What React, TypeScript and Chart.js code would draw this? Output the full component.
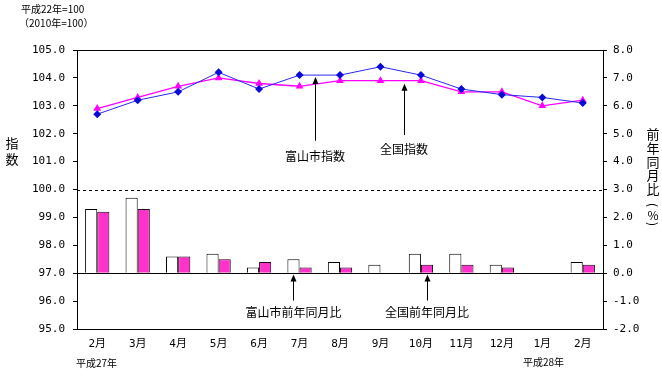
import { useEffect, useRef } from 'react';
import { Chart, registerables } from 'chart.js';

Chart.register(...registerables);

const months = ['2月', '3月', '4月', '5月', '6月', '7月', '8月', '9月', '10月', '11月', '12月', '1月', '2月'];
const toyamaIndex = [102.7, 103.2, 103.5, 104.2, 103.6, 104.1, 104.1, 104.4, 104.1, 103.6, 103.4, 103.3, 103.1];
const nationalIndex = [102.9, 103.3, 103.7, 104.0, 103.8, 103.7, 103.9, 103.9, 103.9, 103.5, 103.5, 103.0, 103.2];
const toyamaYoY = [2.3, 2.7, 0.6, 0.7, 0.2, 0.5, 0.4, 0.3, 0.7, 0.7, 0.3, 0.0, 0.4];
const nationalYoY = [2.2, 2.3, 0.6, 0.5, 0.4, 0.2, 0.2, 0.0, 0.3, 0.3, 0.2, 0.0, 0.3];

const leftAxisMin = 95;
const leftAxisMax = 105;
const rightAxisMin = -2;
const rightAxisMax = 8;
const baseLineIndex = 100;

const MONO = '"DejaVu Sans Mono", "Noto Sans CJK JP", monospace';
const JP = '"Noto Sans CJK JP", sans-serif';

function arrowUp(ctx: CanvasRenderingContext2D, x: number, tipY: number, tailY: number) {
  const xx = Math.round(x) + 0.5;
  ctx.beginPath();
  ctx.moveTo(xx, tipY + 4);
  ctx.lineTo(xx, tailY);
  ctx.stroke();
  ctx.beginPath();
  ctx.moveTo(xx, tipY);
  ctx.lineTo(xx - 3, tipY + 7);
  ctx.lineTo(xx + 3, tipY + 7);
  ctx.closePath();
  ctx.fill();
}

function rotatedChar(ctx: CanvasRenderingContext2D, ch: string, x: number, y: number) {
  ctx.save();
  ctx.translate(x, y);
  ctx.rotate(Math.PI / 2);
  ctx.fillText(ch, 0, 0);
  ctx.restore();
}

const overlay = {
  id: 'overlay',
  afterDatasetsDraw(chart: any) {
    const { ctx, chartArea: a, scales } = chart;
    const yL = scales.y;
    const yR = scales.y1;
    ctx.save();
    ctx.strokeStyle = '#000';
    ctx.fillStyle = '#000';
    ctx.lineWidth = 1;

    // dashed line at 100
    const yd = Math.round(yL.getPixelForValue(baseLineIndex)) + 0.5;
    ctx.setLineDash([3, 3]);
    ctx.beginPath();
    ctx.moveTo(a.left, yd);
    ctx.lineTo(a.right, yd);
    ctx.stroke();
    ctx.setLineDash([]);

    // zero line of bars
    const y0 = Math.round(yR.getPixelForValue(0)) + 0.5;
    ctx.beginPath();
    ctx.moveTo(a.left, y0);
    ctx.lineTo(a.right, y0);
    ctx.stroke();

    // frame
    ctx.strokeRect(Math.round(a.left) + 0.5, Math.round(a.top) + 0.5, Math.round(a.right - a.left), Math.round(a.bottom - a.top));

    // annotations
    const m0 = chart.getDatasetMeta(0).data;
    const m1 = chart.getDatasetMeta(1).data;
    const m2 = chart.getDatasetMeta(2).data;
    const m3 = chart.getDatasetMeta(3).data;

    ctx.font = `12px ${JP}`;
    ctx.textAlign = 'center';
    ctx.textBaseline = 'middle';

    const x1 = m0[5].x + (m0[6].x - m0[5].x) * 0.38;
    arrowUp(ctx, x1, m0[5].y + 2, yL.getPixelForValue(101.75));
    ctx.fillText('富山市指数', x1, yL.getPixelForValue(101.17));

    const x2 = m1[7].x + (m1[8].x - m1[7].x) * 0.58;
    arrowUp(ctx, x2, m1[7].y + 3, yL.getPixelForValue(101.95));
    ctx.fillText('全国指数', x2, yL.getPixelForValue(101.42));

    const x3 = m2[5].x;
    arrowUp(ctx, x3, y0 + 1, yR.getPixelForValue(-0.98));
    ctx.fillText('富山市前年同月比', x3, yR.getPixelForValue(-1.42));

    const x4 = m3[8].x;
    arrowUp(ctx, x4, y0 + 1, yR.getPixelForValue(-0.98));
    ctx.fillText('全国前年同月比', x4, yR.getPixelForValue(-1.42));

    // top-left notes
    ctx.textAlign = 'left';
    ctx.font = `10px ${JP}`;
    ctx.fillText('平成22年=100', 21, 9);
    ctx.fillText('（2010年=100）', 19, 23);

    // year notes under x axis
    ctx.fillText('平成27年', 76, 363);
    ctx.fillText('平成28年', 523, 362);

    // left axis title (vertical)
    ctx.textAlign = 'center';
    ctx.font = `13px ${JP}`;
    ctx.fillText('指', 12, 143);
    ctx.fillText('数', 12, 159);

    // right axis title (vertical)
    const rightChars = ['前', '年', '同', '月', '比'];
    rightChars.forEach((c, i) => ctx.fillText(c, 653, 134 + i * 13.8));
    ctx.font = `12px ${JP}`;
    rotatedChar(ctx, '(', 653, 205);
    ctx.fillText('%', 653, 215);
    rotatedChar(ctx, ')', 653, 224);

    ctx.restore();
  },
};

export default function App() {
  const ref = useRef<HTMLCanvasElement | null>(null);

  useEffect(() => {
    document.body.style.margin = '0';
    const canvas = ref.current;
    if (!canvas) return;
    const chart = new Chart(canvas, {
      type: 'bar',
      data: {
        labels: months,
        datasets: [
          {
            type: 'line',
            label: '富山市指数',
            data: toyamaIndex,
            yAxisID: 'y',
            borderColor: '#2828F0',
            backgroundColor: '#0A0AD8',
            borderWidth: 1,
            pointStyle: 'rectRot',
            pointRadius: 4,
            pointBorderWidth: 0,
            order: 0,
          },
          {
            type: 'line',
            label: '全国指数',
            data: nationalIndex,
            yAxisID: 'y',
            borderColor: '#FF00FF',
            backgroundColor: '#FF00FF',
            borderWidth: 1.3,
            pointStyle: 'triangle',
            pointRadius: 4.5,
            pointBorderWidth: 0,
            order: 0,
          },
          {
            type: 'bar',
            label: '富山市前年同月比',
            data: toyamaYoY,
            yAxisID: 'y1',
            backgroundColor: '#FFFFFF',
            borderColor: '#000000',
            borderWidth: 1,
            barPercentage: 1,
            categoryPercentage: 0.6,
            order: 1,
          },
          {
            type: 'bar',
            label: '全国前年同月比',
            data: nationalYoY,
            yAxisID: 'y1',
            backgroundColor: '#FF33CC',
            borderColor: '#1a0010',
            borderWidth: 1,
            barPercentage: 1,
            categoryPercentage: 0.6,
            order: 1,
          },
        ],
      },
      options: {
        responsive: false,
        animation: false,
        layout: { padding: { top: 50, left: 0, right: 0, bottom: 0 } },
        plugins: {
          legend: { display: false },
          tooltip: { enabled: false },
        },
        scales: {
          x: {
            grid: { display: false, drawTicks: false },
            border: { display: false },
            ticks: {
              color: '#000',
              font: { family: MONO, size: 11 },
              padding: 9,
              maxRotation: 0,
              autoSkip: false,
            },
            afterFit: (s: any) => {
              s.height = 59;
            },
          },
          y: {
            position: 'left',
            min: leftAxisMin,
            max: leftAxisMax,
            grid: { display: true, drawOnChartArea: false, drawTicks: true, tickLength: 4, color: '#000' },
            border: { display: false },
            ticks: {
              stepSize: 1,
              color: '#000',
              font: { family: MONO, size: 11 },
              padding: 8,
              callback: (v: any) => Number(v).toFixed(1),
            },
            afterFit: (s: any) => {
              s.width = 77;
            },
          },
          y1: {
            position: 'right',
            min: rightAxisMin,
            max: rightAxisMax,
            grid: { display: true, drawOnChartArea: false, drawTicks: true, tickLength: 4, color: '#000' },
            border: { display: false },
            ticks: {
              stepSize: 1,
              color: '#000',
              font: { family: MONO, size: 11 },
              padding: 6,
              callback: (v: any) => Number(v).toFixed(1),
            },
            afterFit: (s: any) => {
              s.width = 59;
            },
          },
        },
      },
      plugins: [overlay],
    } as any);
    return () => chart.destroy();
  }, []);

  return (
    <div style={{ width: 662, height: 388, background: '#fff' }}>
      <canvas ref={ref} width={662} height={388} />
    </div>
  );
}
